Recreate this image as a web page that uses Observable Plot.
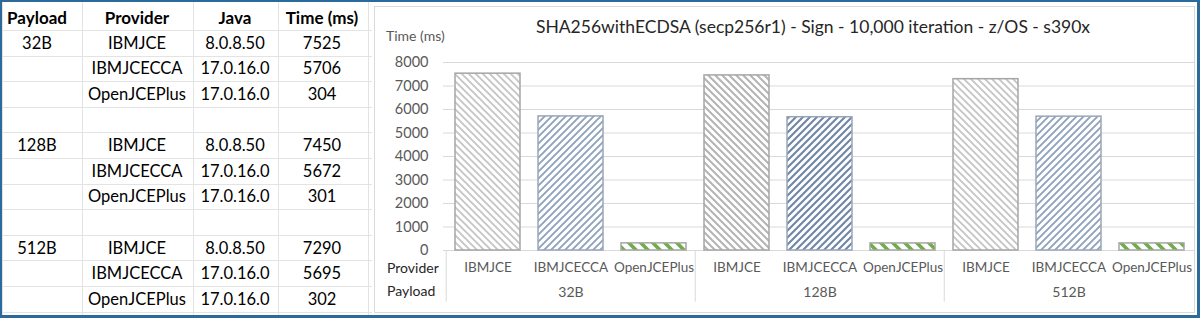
<!DOCTYPE html>
<html><head><meta charset="utf-8">
<script src="https://cdn.jsdelivr.net/npm/d3@7"></script>
<script src="https://cdn.jsdelivr.net/npm/@observablehq/plot@0.6"></script>
<style>
html,body{margin:0;padding:0;background:#fff;}
#root{position:relative;width:1200px;height:318px;overflow:hidden;font-family:Lato,"Open Sans",sans-serif;background:#fff;}
#frame{position:absolute;left:0;top:0;width:1200px;height:318px;box-sizing:border-box;border:2px solid #2c6a9c;border-right-width:3px;border-bottom-width:3px;pointer-events:none;z-index:10;}
.t{position:absolute;white-space:nowrap;line-height:20px;height:20px;}
.hl{position:absolute;height:1px;background:#e3e3e3;}
.vl{position:absolute;width:1px;background:#e3e3e3;}
#chartbox{position:absolute;left:374px;top:6px;width:821px;height:307px;box-sizing:border-box;border:1px solid #d9d9d9;background:#fff;}
#plot{position:absolute;left:374px;top:0;}
</style>
</head><body><div id="root"><div id="frame"></div></div>
<script>
// ---- data ----
const tableHeaders = ["Payload", "Provider", "Java", "Time (ms)"];
const payloads = ["32B", "128B", "512B"];
const providers = ["IBMJCE", "IBMJCECCA", "OpenJCEPlus"];
const javaVersions = ["8.0.8.50", "17.0.16.0", "17.0.16.0"];
const times32B = [7525, 5706, 304];
const times128B = [7450, 5672, 301];
const times512B = [7290, 5695, 302];
const yTicks = [0, 1000, 2000, 3000, 4000, 5000, 6000, 7000, 8000];
const chartTitle = "SHA256withECDSA (secp256r1) - Sign - 10,000 iteration - z/OS - s390x";
const yLabel = "Time (ms)";
const rowLabels = ["Provider", "Payload"];

const timesByPayload = [times32B, times128B, times512B];
const rows = [];
payloads.forEach((p, gi) => providers.forEach((pr, i) => rows.push({
  payload: p, provider: pr, java: javaVersions[i], time: timesByPayload[gi][i], key: p + "|" + pr, gi, pi: i
})));

const root = document.getElementById("root");
function addText(txt, x, yc, opts = {}) {
  const d = document.createElement("div");
  d.className = "t";
  d.textContent = txt;
  d.style.fontSize = (opts.size || 16.5) + "px";
  d.style.color = opts.color || "#000";
  if (opts.bold) d.style.fontWeight = "bold";
  d.style.top = (yc - 10) + "px";
  if (opts.align === "left") { d.style.left = x + "px"; }
  else { d.style.left = (x - 400) + "px"; d.style.width = "800px"; d.style.textAlign = "center"; }
  root.appendChild(d);
}

// ---- table (Excel cells) ----
const colEdges = [2, 82, 193, 278, 368];
const colCenters = [37, 137, 235, 322];
const rowTop = 30, rowH = 25.6;
const nRows = 11;
for (let r = 0; r <= nRows; r++) {
  const l = document.createElement("div"); l.className = "hl";
  l.style.left = "2px"; l.style.width = "370px"; l.style.top = (rowTop + r * rowH) + "px";
  root.appendChild(l);
}
colEdges.forEach(x => {
  const l = document.createElement("div"); l.className = "vl";
  l.style.left = x + "px"; l.style.top = "2px"; l.style.height = "316px";
  root.appendChild(l);
});
tableHeaders.forEach((h, i) => addText(h, colCenters[i], 18, {bold: true, size: 17}));
let r = 0;
payloads.forEach((p, gi) => {
  providers.forEach((pr, i) => {
    const yc = rowTop + r * rowH + rowH / 2;
    if (i === 0) addText(p, colCenters[0], yc);
    addText(pr, colCenters[1], yc);
    addText(javaVersions[i], colCenters[2], yc);
    addText(String(timesByPayload[gi][i]), colCenters[3], yc);
    r++;
  });
  r++;
});

// ---- chart ----
const box = document.createElement("div"); box.id = "chartbox"; root.appendChild(box);

const W = 822, H = 318, mL = 69, mR = 1, mT = 62, mB = 68;
const step = (W - mL - mR) / rows.length;
const keys = rows.map(d => d.key);

const patternFor = (d) => {
  if (d.provider === "IBMJCE") return d.gi === 1 ? "url(#pGreyD)" : "url(#pGrey)";
  if (d.provider === "IBMJCECCA") return d.gi === 1 ? "url(#pBlueD)" : "url(#pBlue)";
  return "url(#pGreen)";
};
const pats = ["url(#pGrey)", "url(#pGreyD)", "url(#pBlue)", "url(#pBlueD)", "url(#pGreen)"];

const plot = Plot.plot({
  width: W, height: H,
  marginLeft: mL, marginRight: mR, marginTop: mT, marginBottom: mB,
  style: {fontFamily: "Lato, 'Open Sans', sans-serif", fontSize: "14px", color: "#595959", background: "transparent", overflow: "visible"},
  x: {type: "band", domain: keys, paddingInner: 0.22, paddingOuter: 0.11, axis: null},
  y: {domain: [0, 8000], axis: null},
  marks: [
    Plot.gridY(yTicks, {stroke: "#d9d9d9", strokeOpacity: 1}),
    Plot.axisY(yTicks, {tickSize: 0, tickPadding: 15, label: null, fontSize: 14.5, tickFormat: d => String(d)}),
    ...pats.map(pf => Plot.barY(rows.filter(d => patternFor(d) === pf), {
      x: "key", y: "time", fill: pf,
      stroke: pf.includes("Blue") ? "#9aa6b8" : "#a6a6a6", strokeWidth: 1.5
    })),
    Plot.text(rows, {x: "key", y: 0, dy: 17, text: "provider", fontSize: 13.5, fill: "#595959"}),
    Plot.text(payloads, {x: d => d + "|IBMJCECCA", y: 0, dy: 42, text: d => d, fontSize: 14, fill: "#595959"}),
    Plot.ruleX(payloads, {x: d => d + "|IBMJCE", y1: 0, y2: -2200, dx: -step / 2, stroke: "#d9d9d9"})
  ]
});
plot.id = "plot";
const ns = "http://www.w3.org/2000/svg";
const defs = document.createElementNS(ns, "defs");
defs.innerHTML = `
<pattern id="pGrey" patternUnits="userSpaceOnUse" width="7" height="7">
  <rect width="7" height="7" fill="#fff"/>
  <path d="M-1,-1 L8,8 M-1,6 L1,8 M6,-1 L8,1" stroke="#c6c6c6" stroke-width="1.9"/>
</pattern>
<pattern id="pGreyD" patternUnits="userSpaceOnUse" width="7" height="7">
  <rect width="7" height="7" fill="#fff"/>
  <path d="M-1,-1 L8,8 M-1,6 L1,8 M6,-1 L8,1" stroke="#b4b4b4" stroke-width="2"/>
</pattern>
<pattern id="pBlue" patternUnits="userSpaceOnUse" width="7" height="7">
  <rect width="7" height="7" fill="#fff"/>
  <path d="M-1,8 L8,-1 M-1,1 L1,-1 M6,8 L8,6" stroke="#90a2bb" stroke-width="1.9"/>
</pattern>
<pattern id="pBlueD" patternUnits="userSpaceOnUse" width="7" height="7">
  <rect width="7" height="7" fill="#fff"/>
  <path d="M-1,8 L8,-1 M-1,1 L1,-1 M6,8 L8,6" stroke="#6f86a6" stroke-width="2.1"/>
</pattern>
<pattern id="pGreen" patternUnits="userSpaceOnUse" width="12" height="12">
  <rect width="12" height="12" fill="#fff"/>
  <path d="M-2,-2 L14,14 M-2,10 L2,14 M10,-2 L14,2" stroke="#70ad47" stroke-width="3.6"/>
</pattern>`;
plot.insertBefore(defs, plot.firstChild);
root.appendChild(plot);

addText(chartTitle, 813, 27, {size: 17.5, color: "#262626"});
addText(yLabel, 386, 36, {size: 14, color: "#595959", align: "left"});
addText(rowLabels[0], 387, 268, {size: 14, color: "#262626", align: "left"});
addText(rowLabels[1], 387, 291, {size: 14, color: "#262626", align: "left"});
</script>
</body></html>
